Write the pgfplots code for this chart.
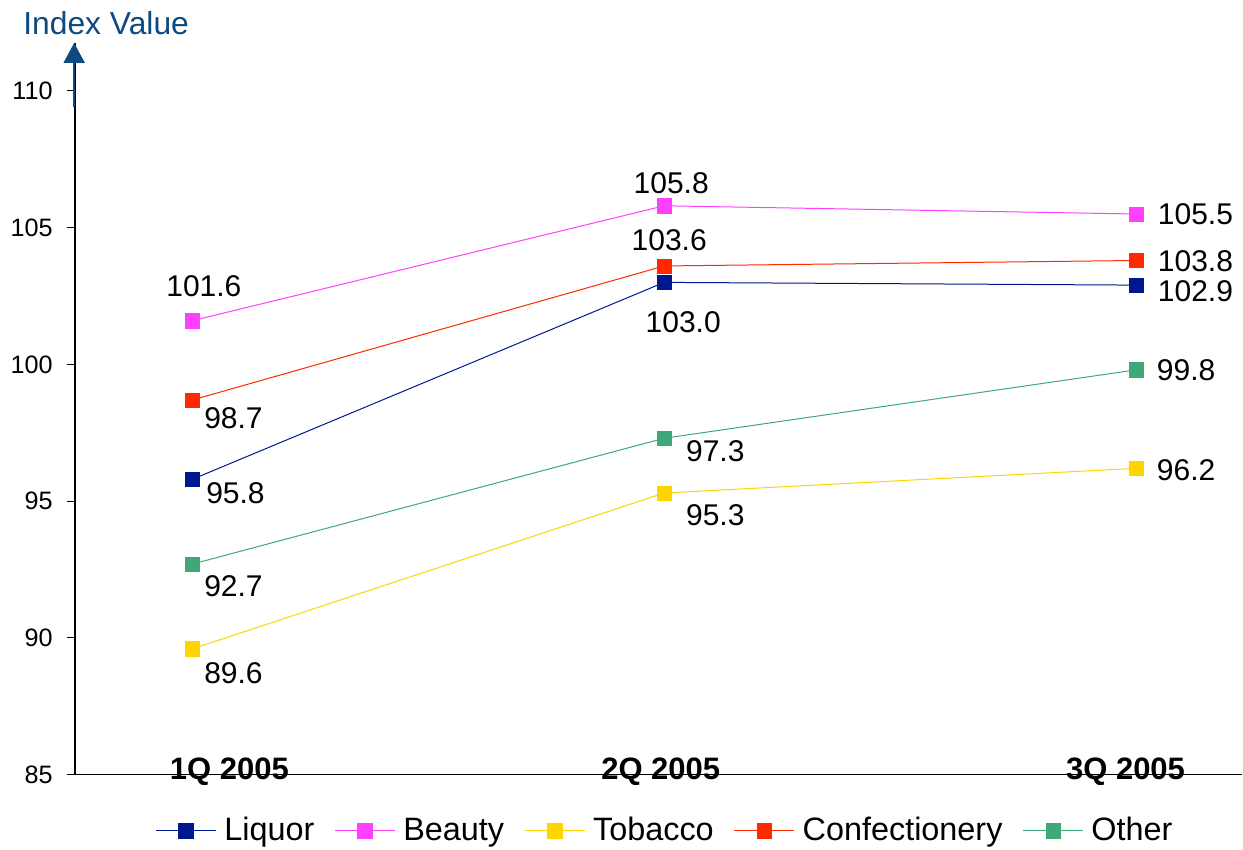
\documentclass[border=0pt]{standalone}
\usepackage{pgfplots}
\pgfplotsset{compat=1.18}
\usepackage{fontspec}
\setmainfont{Liberation Sans}
\usetikzlibrary{arrows.meta}
\definecolor{liq}{RGB}{0,24,143}
\definecolor{bea}{RGB}{255,64,255}
\definecolor{tob}{RGB}{255,213,0}
\definecolor{con}{RGB}{255,42,0}
\definecolor{oth}{RGB}{62,168,120}
\definecolor{titleblue}{RGB}{12,74,128}
\newcommand{\lblfont}{\fontsize{15pt}{17pt}\selectfont}
\begin{document}
\begin{tikzpicture}
\begin{axis}[
  scale only axis,
  width=584pt, height=366pt,
  xmin=-0.2489, xmax=2.2256,
  ymin=85, ymax=111.754,
  axis x line=bottom, axis y line=left,
  axis line style={-, black, line width=0.55pt},
  clip=false,
  tick align=outside,
  ytick={85,90,95,100,105,110},
  major tick length=4pt,
  ytick style={black, line width=0.5pt},
  xtick={0.0784,0.9926,1.9778},
  xticklabels={1Q 2005,2Q 2005,3Q 2005},
  xtick style={draw=none},
  xticklabel style={font=\fontsize{15.5pt}{18pt}\selectfont\bfseries, anchor=base, inner sep=0pt, yshift=1.5pt},
  yticklabel style={font=\fontsize{12.6pt}{15pt}\selectfont, anchor=east, inner sep=0pt, xshift=-7pt},
  /pgf/number format/assume math mode=true,
  legend columns=-1,
  legend style={draw=none, fill=none, inner sep=0pt,
    at={(axis description cs:0.0685,-0.0765)}, anchor=west,
    font=\fontsize{16.2pt}{19pt}\selectfont,
    nodes={inner sep=0pt},
    /tikz/every odd column/.append style={column sep=4pt},
    /tikz/every even column/.append style={column sep=10pt}},
  legend image code/.code={\draw[mark repeat=2,mark phase=2,#1] plot coordinates {(0pt,0pt) (15pt,0pt) (30pt,0pt)};},
  every axis plot/.append style={line width=0.5pt, mark=square*, mark size=3.6pt},
]
\addplot[color=liq, mark options={fill=liq, draw=liq, line width=0.2pt}] coordinates {(0,95.8) (1,103.0) (2,102.9)};
\addlegendentry{Liquor}
\addplot[color=bea, mark options={fill=bea, draw=bea, line width=0.2pt}] coordinates {(0,101.6) (1,105.8) (2,105.5)};
\addlegendentry{Beauty}
\addplot[color=tob, mark options={fill=tob, draw=tob, line width=0.2pt}] coordinates {(0,89.6) (1,95.3) (2,96.2)};
\addlegendentry{Tobacco}
\addplot[color=con, mark options={fill=con, draw=con, line width=0.2pt}] coordinates {(0,98.7) (1,103.6) (2,103.8)};
\addlegendentry{Confectionery}
\addplot[color=oth, mark options={fill=oth, draw=oth, line width=0.2pt}] coordinates {(0,92.7) (1,97.3) (2,99.8)};
\addlegendentry{Other}
% data labels
\begin{scope}[every node/.style={font=\lblfont, inner sep=0pt}]
\node[anchor=west] at (axis cs:0.0286,95.307) {95.8};
\node at (axis cs:1.0403,101.557) {103.0};
\node[anchor=west] at (axis cs:2.0456,102.672) {102.9};
\node at (axis cs:0.0244,102.854) {101.6};
\node at (axis cs:1.0148,106.637) {105.8};
\node[anchor=west] at (axis cs:2.0456,105.504) {105.5};
\node[anchor=west] at (axis cs:0.0244,88.710) {89.6};
\node[anchor=west] at (axis cs:1.0456,94.485) {95.3};
\node[anchor=west] at (axis cs:2.0434,96.148) {96.2};
\node[anchor=west] at (axis cs:0.0244,98.048) {98.7};
\node at (axis cs:1.0106,104.554) {103.6};
\node[anchor=west] at (axis cs:2.0456,103.787) {103.8};
\node[anchor=west] at (axis cs:0.0244,91.908) {92.7};
\node[anchor=west] at (axis cs:1.0456,96.842) {97.3};
\node[anchor=west] at (axis cs:2.0434,99.784) {99.8};
\end{scope}
\draw[color=titleblue, line width=1pt, -{Triangle[width=10.5pt,length=10pt]}] ([xshift=-0.4pt]axis cs:-0.2489,109.415) -- ([xshift=-0.4pt]axis cs:-0.2489,111.754);
\node[anchor=base west, inner sep=0pt, text=titleblue, font=\fontsize{15.9pt}{18pt}\selectfont] at ([xshift=-26pt,yshift=4pt]rel axis cs:0,1) {Index Value};
\end{axis}
\path ([shift={(-37.5pt,-37.5pt)}]current axis.south west) -- ([yshift=21.5pt]current axis.north east);
\end{tikzpicture}
\end{document}
